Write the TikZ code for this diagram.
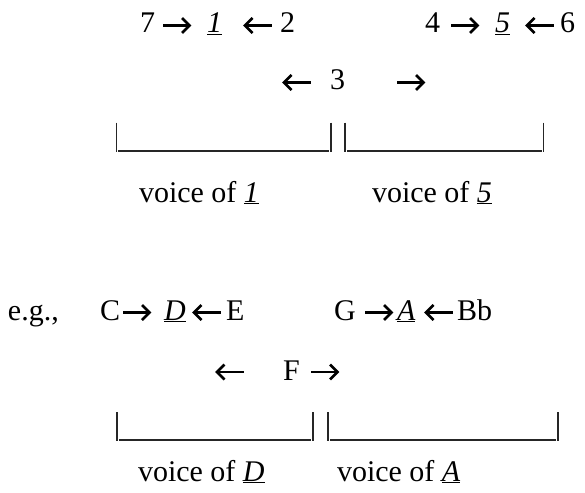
\documentclass[tikz,border=0pt]{standalone}
\usepackage{fontspec}
\setmainfont{Liberation Serif}
\begin{document}
\begin{tikzpicture}[x=1pt,y=-1pt,
  every node/.style={font=\fontsize{30}{36}\selectfont, inner sep=0pt, outer sep=0pt, anchor=base west},
  warrow/.style={line width=2.8pt, line cap=butt, miter limit=10},
  bar/.style={line width=1.3pt, draw=black!85},
  pics/rarr/.style={code={
    \draw[warrow] (0,0) -- (26,0);
    \draw[warrow] (19,-7.5) -- (26.5,0) -- (19,7.5);}},
  pics/larr/.style={code={
    \draw[warrow] (0.5,0) -- (26.5,0);
    \draw[warrow] (7.5,-7.5) -- (0,0) -- (7.5,7.5);}}
]
\useasboundingbox (0,0) rectangle (585,492);
% ---- row 1
\node (n7) at (140,33) {7};
\pic at (163,25.5) {rarr};
\node (n1) at (207,33) {\underline{\textit{1}}};
\pic at (245,25.5) {larr};
\node (n2) at (280,33) {2};
\node (n4) at (425,33) {4};
\pic at (451,25.5) {rarr};
\node (n5) at (495,33) {\underline{\textit{5}}};
\pic at (527,25.5) {larr};
\node (n6) at (560,33) {6};
% ---- row 2
\pic at (284,82.5) {larr};
\node (n3) at (330,90) {3};
\pic at (397,82.5) {rarr};
% ---- row 3 brackets
\draw[bar] (116.5,122.5) -- (116.5,152);
\draw[bar] (118,151) -- (329,151);
\draw[bar] (331,122.5) -- (331,152);
\draw[bar] (345,122.5) -- (345,152);
\draw[bar] (347,151) -- (542,151);
\draw[bar] (543.5,122.5) -- (543.5,152);
% ---- row 3 labels
\node (v1) at (139,202) {voice of \underline{\textit{1}}};
\node (v5) at (372,202) {voice of \underline{\textit{5}}};
% ---- row 4
\node (eg) at (8,320) {e.g.,};
\node (nC) at (100,320) {C};
\pic at (123,312.5) {rarr};
\node (nD) at (164,320) {\underline{\textit{D}}};
\pic at (194,312.5) {larr};
\node (nE) at (226,320) {E};
\node (nG) at (334,320) {G};
\pic at (365,312.5) {rarr};
\node (nA) at (397,320) {\underline{\textit{A}}};
\pic at (426,312.5) {larr};
\node (nBb) at (457,320) {Bb};
% ---- row 5
\pic at (217,372) {larr};
\node (nF) at (283,380) {F};
\pic at (311,372) {rarr};
% ---- row 6 brackets
\draw[bar] (117,412) -- (117,441);
\draw[bar] (119,440) -- (311,440);
\draw[bar] (313,412) -- (313,441);
\draw[bar] (328,412) -- (328,441);
\draw[bar] (330,440) -- (556,440);
\draw[bar] (558,412) -- (558,441);
% ---- row 7 labels
\node (vD) at (138,481) {voice of \underline{\textit{D}}};
\node (vA) at (337,481) {voice of \underline{\textit{A}}};
\end{tikzpicture}
\end{document}
